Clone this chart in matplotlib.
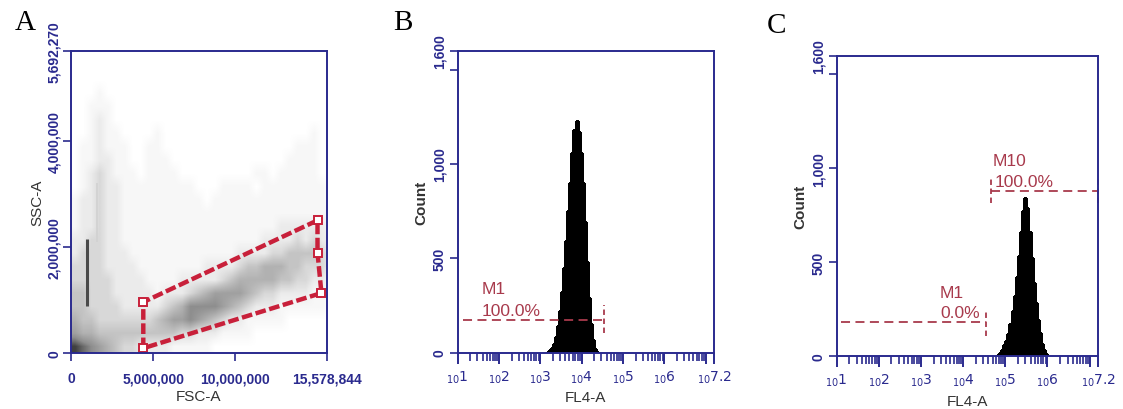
import numpy as np
import matplotlib
matplotlib.use('Agg')
import matplotlib.pyplot as plt
from matplotlib.colors import LinearSegmentedColormap
from matplotlib.ticker import FixedLocator, NullFormatter

plt.rcParams['font.family'] = ['Liberation Sans', 'DejaVu Sans']

# ---------------- Panel A data: FSC-A vs SSC-A density ----
# grid cells 0.5M wide (FSC) x 0.25M tall (SSC); rows listed from top (5.625M) to bottom (0.125M)
fsc_max = 15578844
ssc_max = 5692270
a_xticks = [0, 5000000, 10000000, 15578844]
a_xticklabels = ['0', '5,000,000', '10,000,000', '15,578,844']
a_yticks = [0, 2000000, 4000000, 5692270]
a_yticklabels = ['0', '2,000,000', '4,000,000', '5,692,270']
density_rows = [
    "00000000000000000000000000000000",
    "00000000000000000000000000000000",
    "00000000000000000000000000000000",
    "00010000000000000000000000000000",
    "00111000000000000000000000000000",
    "00121000000000000000000000000000",
    "00121100001000000000000000000100",
    "01121110011000000000000000011100",
    "01122110011100000000000000111100",
    "01232111011110000000001101111100",
    "01232211111111100011110111111110",
    "12232211111111110111111111111110",
    "12232211111111111111111111111111",
    "12232211111111111111111112222221",
    "22332211111111111111111222232322",
    "23332221111111111111222233444432",
    "33332222111111112222344555443332",
    "33333222211112222234555554433221",
    "44333222221222345666654332222111",
    "44333322222345777765432221111110",
    "54433333334566765432211111000000",
    "65544444444443322211110000000000",
    "98765433222211111000000000000000",
]
cell_w = 500000
cell_h = 250000
# dense vertical streaks of small events
streak_x = [1000000, 1600000]
streak_y0 = [880000, 2100000]
streak_y1 = [2150000, 3200000]
streak_color = ['#4a4a4a', '#d2d2d2']
streak_width = [2.2, 1.3]
# gate polygon vertices
gate_x = [4400000, 4400000, 15000000, 15000000, 15240000, 4400000]
gate_y = [90000, 960000, 2500000, 1890000, 1130000, 90000]

# ---------------- Panels B and C: FL4-A histograms ---------------------------
b_log_edges = [3.15, 3.20, 3.25, 3.30, 3.35, 3.40, 3.45, 3.50, 3.55, 3.60, 3.65,
               3.70, 3.75, 3.80, 3.85, 3.90, 3.95, 4.00, 4.05, 4.10, 4.15, 4.20,
               4.25, 4.30, 4.35, 4.40]
b_counts = [5, 12, 25, 45, 80, 140, 220, 320, 450, 590, 750, 900, 1060, 1180,
            1230, 1170, 1060, 900, 690, 480, 290, 150, 65, 20, 5]
c_log_edges = [4.80, 4.85, 4.90, 4.95, 5.00, 5.05, 5.10, 5.15, 5.20, 5.25, 5.30,
               5.35, 5.40, 5.45, 5.50, 5.55, 5.60, 5.65, 5.70, 5.75, 5.80, 5.85,
               5.90, 5.95, 6.00]
c_counts = [5, 15, 30, 55, 80, 115, 170, 240, 320, 420, 530, 660, 770, 840,
            790, 660, 520, 390, 280, 190, 120, 65, 30, 8]
hist_ymax = 1600
hist_yticks = [0, 500, 1000, 1600]
hist_yticklabels = ['0', '500', '1,000', '1,600']
hist_log_ticks = [1, 2, 3, 4, 5, 6, 7, 7.2]
hist_ticklabels = [r'${}_{10}1$', r'${}_{10}2$', r'${}_{10}3$', r'${}_{10}4$',
                   r'${}_{10}5$', r'${}_{10}6$', r'${}_{10}7.2$']

# markers: (log_x_start, log_x_end, level, end_low, end_high, left_end, right_end)
b_markers = [(1.13, 4.55, 171, 101, 250, False, True)]
b_marker_texts = [(1.57, 340, 'M1'), (1.57, 223, '100.0%')]
c_markers = [(1.10, 4.55, 180, 106, 238, False, True),
             (4.66, 7.2, 878, 815, 952, True, True)]
c_marker_texts = [(3.45, 339, 'M1'), (3.45, 233, '0.0%'),
                  (4.70, 1042, 'M10'), (4.74, 931, '100.0%')]

NAVY = '#2a2a8e'
LABEL = '#333333'
MARK = '#a83a4c'
GATE = '#c8203a'

fig = plt.figure(figsize=(11.23, 4.10), dpi=100)

def style_axes(ax):
    for s in ax.spines.values():
        s.set_color(NAVY)
        s.set_linewidth(1.4)
    ax.tick_params(axis='both', which='both', colors=NAVY, direction='out')
    ax.tick_params(axis='both', which='major', length=6, width=1.2,
                   labelcolor=NAVY, labelsize=10)
    for lab in ax.get_xticklabels() + ax.get_yticklabels():
        lab.set_fontweight('bold')

# ---------------- Panel A ----------------
axA = fig.add_axes([0.0632, 0.1366, 0.228, 0.7366])
grid = np.array([[int(ch) for ch in row] for row in density_rows], dtype=float)[::-1]
ncols = grid.shape[1]
nrows = grid.shape[0]
cmap = LinearSegmentedColormap.from_list(
    'flow', ['#ffffff', '#f7f7f7', '#ebebeb', '#d8d8d8', '#c4c4c4', '#b2b2b2',
             '#a0a0a0', '#8e8e8e', '#6a6a6a', '#404040'])
axA.imshow(grid, extent=(0, ncols * cell_w, 0, nrows * cell_h), origin='lower',
           aspect='auto', cmap=cmap, vmin=0, vmax=9, interpolation='bilinear')
axA.vlines(streak_x, streak_y0, streak_y1, colors=streak_color,
           linewidths=streak_width)
axA.plot(gate_x, gate_y, color=GATE, lw=3.2, ls=(0, (2.4, 0.8)))
axA.plot(gate_x[:5], gate_y[:5], ls='none', marker='s', ms=5.5, mfc='white',
         mec=GATE, mew=1.4)
axA.set_xlim(0, fsc_max)
axA.set_ylim(0, ssc_max)
axA.set_xticks(a_xticks)
axA.set_xticklabels(a_xticklabels)
axA.set_yticks(a_yticks)
axA.set_yticklabels(a_yticklabels, rotation=90, va='center')
style_axes(axA)
axA.tick_params(axis='x', which='major', pad=7)
axA.tick_params(axis='y', which='major', pad=1)
axA.set_xlabel('FSC-A', color=LABEL, fontsize=11, labelpad=3)
axA.set_ylabel('SSC-A', color=LABEL, fontsize=11, labelpad=2)

# ---------------- Panels B and C ----------------
def hist_panel(rect, edges, counts, markers, texts):
    ax = fig.add_axes(rect)
    e = 10 ** np.array(edges)
    c = np.array(counts, dtype=float)
    px = np.concatenate([[e[0]], np.repeat(e, 2)[1:-1], [e[-1]]])
    py = np.concatenate([[0], np.repeat(c, 2), [0]])
    ax.fill(px, py, facecolor='black', edgecolor='black', lw=0.8,
            antialiased=False)
    ax.set_xscale('log')
    ax.set_xlim(10 ** 1, 10 ** 7.2)
    ax.set_ylim(0, hist_ymax)
    ax.xaxis.set_major_locator(FixedLocator([10 ** v for v in hist_log_ticks]))
    ax.set_xticklabels(hist_ticklabels[:6] + [''] + [hist_ticklabels[6]])
    minors = [m * 10 ** d for d in range(1, 7) for m in range(2, 10)]
    ax.xaxis.set_minor_locator(FixedLocator(minors))
    ax.xaxis.set_minor_formatter(NullFormatter())
    ax.set_yticks(hist_yticks)
    ax.set_yticklabels(hist_yticklabels, rotation=90, va='center')
    style_axes(ax)
    ax.tick_params(axis='x', which='major', length=8, width=1.4)
    ax.tick_params(axis='x', which='minor', length=6, width=1.2)
    ax.tick_params(axis='y', which='major', pad=2)
    ax.yaxis.set_minor_locator(FixedLocator([1500]))
    ax.tick_params(axis='y', which='minor', length=6, width=1.2)
    for x0, x1, lev, lo, hi, lend, rend in markers:
        ax.plot([10 ** x0, 10 ** x1], [lev, lev], color=MARK, lw=1.3,
                ls=(0, (5, 3)))
        if lend:
            ax.plot([10 ** x0, 10 ** x0], [lo, hi], color=MARK, lw=1.3,
                    ls=(0, (3, 2)))
        if rend:
            ax.plot([10 ** x1, 10 ** x1], [lo, hi], color=MARK, lw=1.3,
                    ls=(0, (3, 2)), clip_on=False)
    for x, y, t in texts:
        ax.text(10 ** x, y, t, color=MARK, fontsize=12.5, ha='left',
                va='center')
    ax.set_xlabel('FL4-A', color=LABEL, fontsize=11, labelpad=4)
    ax.set_ylabel('Count', color=LABEL, fontsize=11, fontweight='bold',
                  labelpad=3)
    return ax

axB = hist_panel([0.4076, 0.1378, 0.2282, 0.7354], b_log_edges, b_counts,
                 b_markers, b_marker_texts)
axC = hist_panel([0.7449, 0.1300, 0.2329, 0.7317], c_log_edges, c_counts,
                 c_markers, c_marker_texts)

# panel letters
fig.text(25 / 1123, 1 - 23 / 410, 'A', family='Liberation Serif', fontsize=21,
         ha='center', va='center')
fig.text(403 / 1123, 1 - 23 / 410, 'B', family='Liberation Serif', fontsize=21,
         ha='center', va='center')
fig.text(776 / 1123, 1 - 26 / 410, 'C', family='Liberation Serif', fontsize=21,
         ha='center', va='center')

fig.savefig('out.png', dpi=100)
